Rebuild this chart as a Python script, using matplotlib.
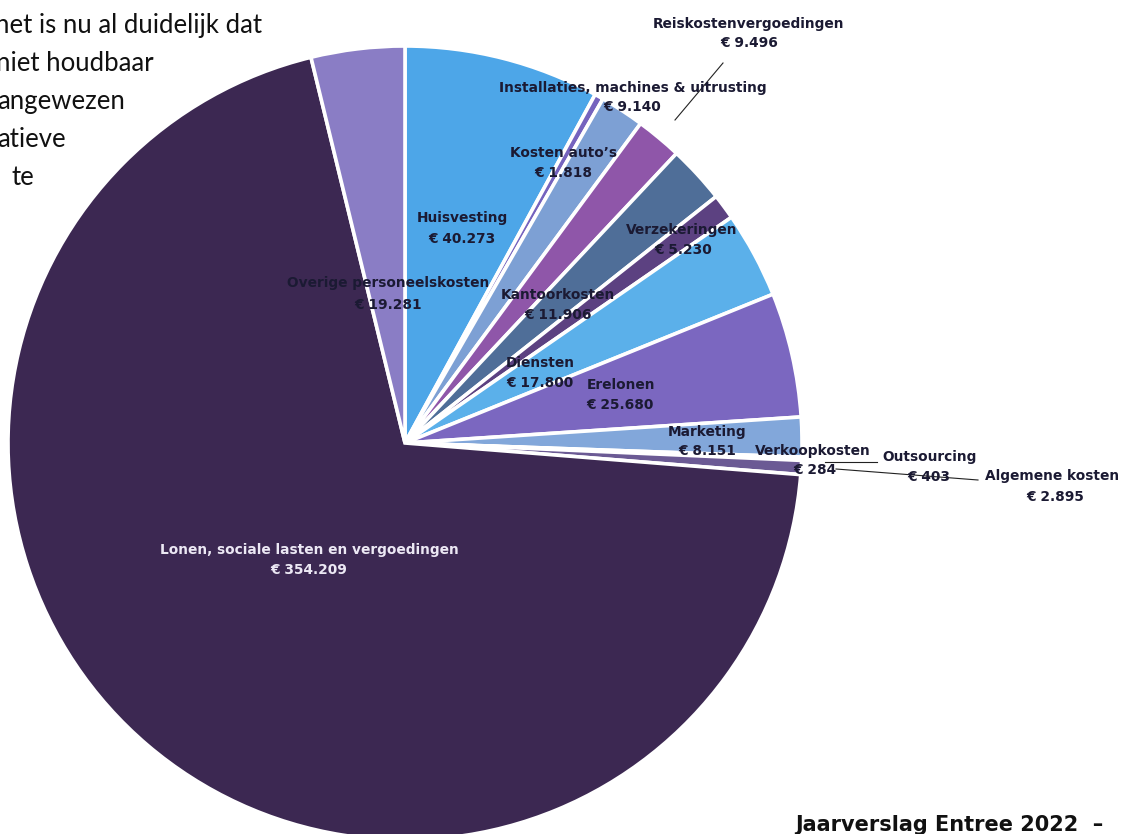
import matplotlib
matplotlib.use("Agg")
import matplotlib.pyplot as plt

# Kostenverdeling (euro's), met de klok mee vanaf 12 uur
labels = ["Huisvesting", "Kosten auto’s", "Installaties, machines & uitrusting",
          "Reiskostenvergoedingen", "Kantoorkosten", "Verzekeringen", "Diensten",
          "Erelonen", "Marketing", "Verkoopkosten", "Outsourcing", "Algemene kosten",
          "Lonen, sociale lasten en vergoedingen", "Overige personeelskosten"]
values = [40273, 1818, 9140, 9496, 11906, 5230, 17800, 25680, 8151, 284, 403, 2895,
          354209, 19281]
colors = ["#4da6e8", "#7563be", "#7da0d4", "#8f56a9", "#4f6e98", "#5c4181", "#5bb0ea",
          "#7b67c0", "#82a7da", "#6e86be", "#7d6db6", "#6b5a94", "#3c2852", "#8a7dc5"]

# labelposities in pixels (x, y vanaf boven)
name_xy = [(462, 218), (564, 153), (633, 88), (749, 24), (558, 295), (682, 230),
           (540, 363), (621, 385), (707, 432), (813, 451), (930, 457), (1052, 476),
           (309, 550), (388, 283)]
value_xy = [(462, 239), (563, 173), (632, 107), (749, 43), (558, 315), (683, 250),
            (540, 383), (620, 405), (707, 451), (815, 470), (929, 477), (1055, 497),
            (309, 570), (388, 305)]

intro = ["het is nu al duidelijk dat", "niet houdbaar", "angewezen", "atieve", "te"]
intro_x = [-5, -4, -3, -3, 11]

W, H = 1132, 834
fig = plt.figure(figsize=(W / 100, H / 100), dpi=100)
ax = fig.add_axes([0, 0, 1, 1])

ax.pie(values, colors=colors, startangle=90, counterclock=False,
       center=(405, H - 443), radius=397,
       wedgeprops=dict(edgecolor="white", linewidth=2.6))
ax.set_xlim(0, W)
ax.set_ylim(0, H)
ax.set_aspect("equal")
ax.axis("off")

for i, name in enumerate(labels):
    kleur = "#ece8f4" if values[i] > 100000 else "#1b1a33"
    euro = "€ " + f"{values[i]:,}".replace(",", ".")
    ax.text(name_xy[i][0], H - name_xy[i][1], name, ha="center", va="center",
            fontsize=9.9, fontweight="bold", color=kleur, family="DejaVu Sans")
    ax.text(value_xy[i][0], H - value_xy[i][1], euro, ha="center", va="center",
            fontsize=9.9, fontweight="bold", color=kleur, family="DejaVu Sans")

# verbindingslijnen
ax.plot([675, 723], [H - 120, H - 63], color="#222222", lw=0.8)
ax.plot([825, 877], [H - 462, H - 462], color="#222222", lw=0.8)
ax.plot([836, 978], [H - 469, H - 480], color="#222222", lw=0.8)

# stukje lopende tekst linksboven
for i, regel in enumerate(intro):
    ax.text(intro_x[i], H - (33 + i * 38), regel, ha="left", va="baseline",
            fontsize=18.5, family="Lato", color="#111111")

ax.text(795, 3, "Jaarverslag Entree 2022  –", ha="left", va="baseline",
        fontsize=15, fontweight="bold", family="DejaVu Sans", color="#111111")

fig.savefig("out.png", dpi=100)
